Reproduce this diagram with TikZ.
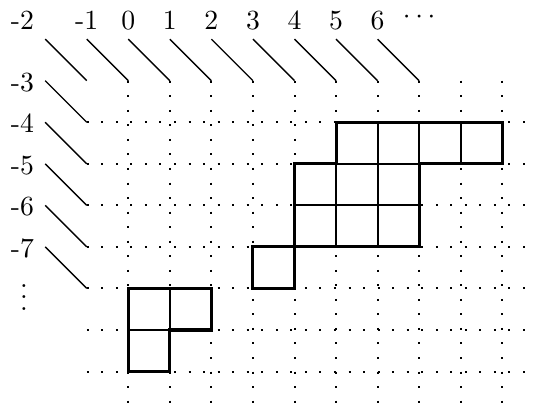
\documentclass[tikz,border=0pt]{standalone}
\begin{document}
\begin{tikzpicture}[x=15pt,y=15pt,
  gridline/.style={line width=0.72pt, dash pattern=on 0.72pt off 4.53pt},
  diag/.style={line width=0.5pt},
  outer/.style={line width=1.1pt, line join=miter},
  inner/.style={line width=0.8pt},
  lab/.style={anchor=base, inner sep=0pt}]
\useasboundingbox (-3.088,1.943) rectangle (9.764,-8.141);
% dotted grid
\foreach \j in {1,...,7} \draw[gridline] (-1,-\j) -- (9.75,-\j);
\foreach \i in {0,...,9} \draw[gridline] (\i,0) -- (\i,-8);
% top diagonals
\foreach \k [count=\n] in {-2,...,6} {
  \coordinate (ta\n) at (\k,1);
  \coordinate (tb\n) at (\k+1,0);
  \draw[diag] (ta\n) -- (tb\n);
}
% left diagonals
\foreach \m [count=\n] in {0,...,4} {
  \coordinate (la\n) at (-2,-\m);
  \coordinate (lb\n) at (-1,-\m-1);
  \draw[diag] (la\n) -- (lb\n);
}
% top labels
\node[lab] (tl0) at (-2.55,1.229) {-2};
\foreach \k [count=\n] in {-1,...,6} \node[lab] (tl\n) at (\k,1.229) {\k};
\node[lab] (tdots) at (7,1.373) {$\cdots$};
% left labels
\foreach \m/\t [count=\n] in {0/-3,1/-4,2/-5,3/-6,4/-7}
  \node[lab] (ll\n) at (-2.55,-\m-0.25) {\t};
\node[lab] (lvdots) at (-2.51,-5.52) {$\vdots$};
% upper shape
\draw[inner] (6,-1)--(6,-2) (7,-1)--(7,-2) (8,-1)--(8,-2) (5,-2)--(7,-2)
  (5,-2)--(5,-4) (6,-2)--(6,-4) (4,-3)--(7,-3);
\draw[outer] (5,-1)--(9,-1)--(9,-2)--(7,-2)--(7,-4)--(4,-4)--(4,-2)--(5,-2)--cycle;
\draw[outer] (3,-4) rectangle (4,-5);
% lower shape
\draw[inner] (1,-5)--(1,-6) (0,-6)--(1,-6);
\draw[outer] (0,-5)--(2,-5)--(2,-6)--(1,-6)--(1,-7)--(0,-7)--cycle;
\end{tikzpicture}
\end{document}
